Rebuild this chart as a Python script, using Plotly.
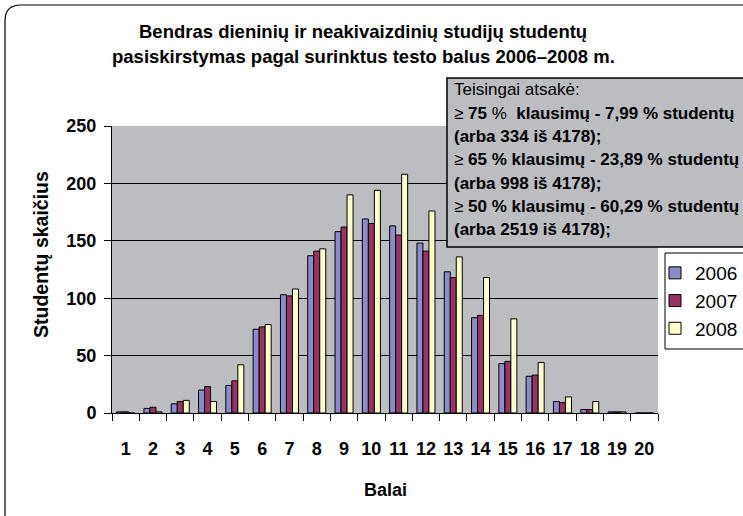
import plotly.graph_objects as go

scores = [str(i) for i in range(1, 21)]
y2006 = [1, 4, 8, 20, 24, 73, 103, 137, 158, 169, 163, 148, 123, 83, 43, 32, 10, 3, 1, 0]
y2007 = [1, 5, 10, 23, 28, 75, 102, 141, 162, 165, 155, 141, 118, 85, 45, 33, 9, 3, 1, 0]
y2008 = [0, 1, 11, 10, 42, 77, 108, 143, 190, 194, 208, 176, 136, 118, 82, 44, 14, 10, 1, 0]
series_names = ["2006", "2007", "2008"]
series_colors = ["#8a8ccb", "#993366", "#ffffcc"]

title_lines = ["Bendras dieninių ir neakivaizdinių studijų studentų",
               "pasiskirstymas pagal surinktus testo balus 2006–2008 m."]
box_lines = [
    "Teisingai atsakė:",
    "≥ <b>75</b> % <b> klausimų - 7,99 % studentų</b>",
    "<b>(arba 334 iš 4178);</b>",
    "≥ <b>65 % klausimų - 23,89 % studentų</b>",
    "<b>(arba 998 iš 4178);</b>",
    "≥ <b>50 % klausimų - 60,29 % studentų</b>",
    "<b>(arba 2519 iš 4178);</b>",
]

W, H = 743, 516
L, R, T, B = 112, 658, 126, 413
FONT = "Liberation Sans, Arial, sans-serif"


def px(x):
    return (x - L) / (R - L)


def py(y):
    return (B - y) / (B - T)


fig = go.Figure()
for name, vals, col in zip(series_names, [y2006, y2007, y2008], series_colors):
    fig.add_trace(go.Bar(x=scores, y=vals, name=name,
                         marker=dict(color=col, line=dict(color="black", width=1))))

fig.update_layout(
    width=W, height=H,
    margin=dict(l=L, r=W - R, t=T, b=H - B, pad=0, autoexpand=False),
    paper_bgcolor="white",
    plot_bgcolor="#bcbdc1",
    barmode="group", bargap=0.34, bargroupgap=0,
    font=dict(family=FONT, color="black", size=18),
    showlegend=True,
    legend=dict(xref="container", yref="container",
                x=655 / W, y=1 - 254 / H, xanchor="left", yanchor="top",
                bgcolor="rgba(0,0,0,0)", borderwidth=0,
                font=dict(size=19, family=FONT), itemwidth=30),
)
fig.update_xaxes(
    showline=True, linecolor="black", linewidth=1, automargin=False,
    ticks="outside", ticklen=7, tickcolor="black", tickson="boundaries",
    tickfont=dict(size=18, family=FONT, weight="bold"), tickangle=0,
    ticklabelstandoff=19, showgrid=False, fixedrange=True,
)
fig.update_yaxes(
    range=[0, 250], dtick=50, showline=True, linecolor="black", linewidth=1,
    automargin=False,
    ticks="outside", ticklen=7, tickcolor="black",
    tickfont=dict(size=18, family=FONT, weight="bold"),
    showgrid=True, gridcolor="black", gridwidth=1, zeroline=False,
    ticklabelstandoff=4, fixedrange=True,
)

annotations = []
for i, (line, yc) in enumerate(zip(title_lines, [31, 56])):
    annotations.append(dict(text="<b>" + line + "</b>", x=px(363), y=py(yc),
                            xref="paper", yref="paper", showarrow=False,
                            xanchor="center", yanchor="middle",
                            font=dict(size=18.5, family=FONT)))
annotations.append(dict(text="<b>Balai</b>", x=px(385), y=py(490), xref="paper", yref="paper",
                        showarrow=False, xanchor="center", yanchor="middle",
                        font=dict(size=18, family=FONT)))
annotations.append(dict(text="<b>Studentų skaičius</b>", x=px(41), y=py(255), xref="paper",
                        yref="paper", showarrow=False, xanchor="center", yanchor="middle",
                        textangle=-90, font=dict(size=19.5, family=FONT)))
for i, line in enumerate(box_lines):
    annotations.append(dict(text=line, x=px(452), y=py(90 + i * 23.3), xref="paper",
                            yref="paper", showarrow=False, xanchor="left", yanchor="middle",
                            align="left", font=dict(size=17, family=FONT)))
fig.update_layout(annotations=annotations)

shapes = [
    dict(type="rect", xref="paper", yref="paper", x0=px(447), x1=px(800), y0=py(247), y1=py(78),
         fillcolor="#bcbdc1", line=dict(color="black", width=1.5), layer="above"),
    dict(type="rect", xref="paper", yref="paper", x0=px(665), x1=px(800), y0=py(349), y1=py(253),
         fillcolor="white", line=dict(color="black", width=1), layer="above"),
    dict(type="path", xref="paper", yref="paper",
         path="M {a},{b} L {a},{c} Q {a},{d} {e},{d} L {f},{d}".format(
             a=px(5), b=py(530), c=py(21), d=py(5), e=px(21), f=px(760)),
         line=dict(color="black", width=1.2)),
]
fig.update_layout(shapes=shapes)

fig.write_html("out.html", config={"displayModeBar": False},
               post_script="document.body.style.margin='0px';document.body.style.overflow='hidden';")
